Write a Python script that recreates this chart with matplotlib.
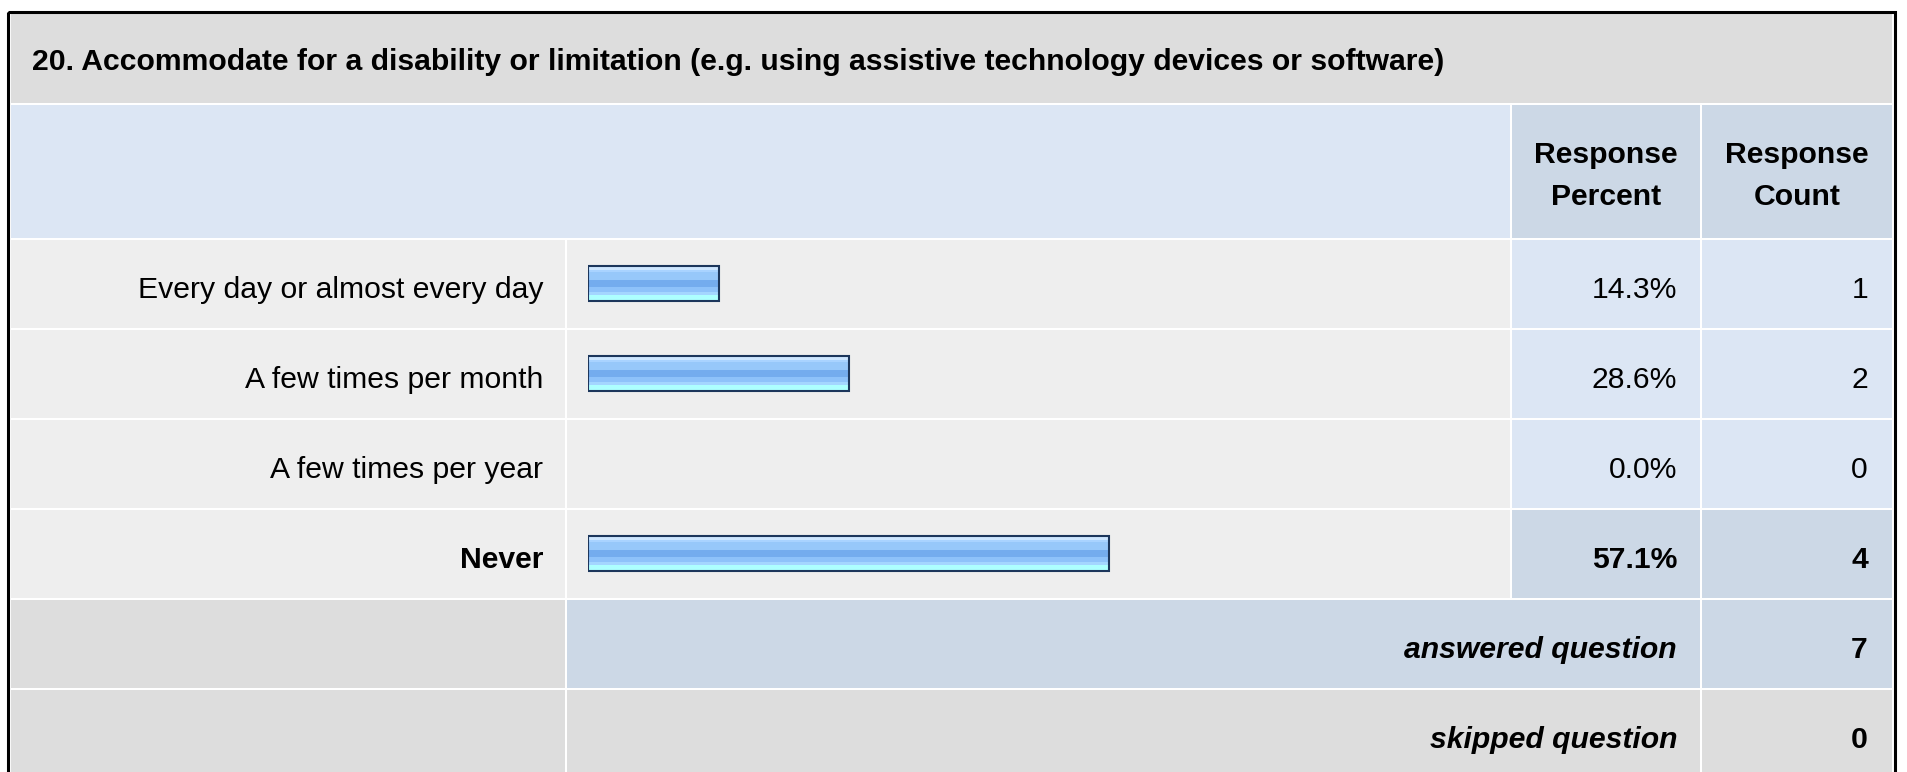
import matplotlib
matplotlib.use("Agg")
import matplotlib.pyplot as plt
from matplotlib.patches import Rectangle
import numpy as np

# ---------------- data ----------------
title = "20. Accommodate for a disability or limitation (e.g. using assistive technology devices or software)"
header_percent = ["Response", "Percent"]
header_count = ["Response", "Count"]
categories = ["Every day or almost every day", "A few times per month",
              "A few times per year", "Never"]
percents = [14.3, 28.6, 0.0, 57.1]
counts = [1, 2, 0, 4]
highlight = [False, False, False, True]
summary_labels = ["answered question", "skipped question"]
summary_values = [7, 0]

# ---------------- styles ----------------
W, H = 1907, 772
FONT = ["Liberation Sans", "DejaVu Sans"]
FS = 21.7
C_TITLE = "#DDDDDD"
C_LBLUE = "#DCE6F4"
C_DBLUE = "#CCD8E6"
C_ROW = "#EEEEEE"
C_GRAY = "#DDDDDD"
BAR_EDGE = "#1C365B"
GRAD = ["#CDE6FF", "#CDE6FF", "#A9D3FF", "#97C8FA", "#97C8FA", "#97C8FA",
        "#74ACEE", "#74ACEE", "#74ACEE", "#8EC2FA", "#8EC2FA", "#A4D6FF",
        "#ADFFFF", "#ADFFFF"]

fig = plt.figure(figsize=(W / 100, H / 100), dpi=100)
fig.patch.set_facecolor("white")
ax = fig.add_axes([0, 0, 1, 1])
ax.set_xlim(0, W)
ax.set_ylim(H, 0)
ax.axis("off")


def cell(x0, x1, y0, y1, color):
    ax.add_patch(Rectangle((x0, y0), x1 - x0, y1 - y0, facecolor=color,
                           edgecolor="none", zorder=1))


def txt(x, y, s, ha="right", weight="normal", style="normal"):
    ax.text(x, y, s, ha=ha, va="baseline", fontsize=FS, family=FONT,
            fontweight=weight, fontstyle=style, color="black", zorder=5)


cols = [(11, 565), (567, 1510), (1512, 1700), (1702, 1892)]
ROW_H = 90
ROW0 = 238

# title row
cell(11, 1892, 14, 103, C_TITLE)
txt(32, 70, title, ha="left", weight="bold")

# header row
cell(11, 1510, 105, 238, C_LBLUE)
cell(cols[2][0], cols[2][1], 105, 238, C_DBLUE)
cell(cols[3][0], cols[3][1], 105, 238, C_DBLUE)
pc = (cols[2][0] + cols[2][1]) / 2
cc = (cols[3][0] + cols[3][1]) / 2
txt(pc, 163, header_percent[0], ha="center", weight="bold")
txt(pc, 205, header_percent[1], ha="center", weight="bold")
txt(cc, 163, header_count[0], ha="center", weight="bold")
txt(cc, 205, header_count[1], ha="center", weight="bold")

# data rows
for i, (cat, p, n, hl) in enumerate(zip(categories, percents, counts, highlight)):
    y0 = ROW0 + ROW_H * i + 2
    y1 = ROW0 + ROW_H * (i + 1)
    cell(cols[0][0], cols[0][1], y0, y1, C_ROW)
    cell(cols[1][0], cols[1][1], y0, y1, C_ROW)
    cell(cols[2][0], cols[2][1], y0, y1, C_DBLUE if hl else C_LBLUE)
    cell(cols[3][0], cols[3][1], y0, y1, C_DBLUE if hl else C_LBLUE)
    yb = (y0 + y1) / 2 + 14
    w = "bold" if hl else "normal"
    txt(543, yb, cat, weight=w)
    txt(1677, yb, f"{p:.1f}%", weight=w)
    txt(1868, yb, f"{n}", weight=w)

# summary rows
nrows = len(categories)
for j, (lab, val) in enumerate(zip(summary_labels, summary_values)):
    y0 = ROW0 + ROW_H * (nrows + j) + 2
    y1 = ROW0 + ROW_H * (nrows + j + 1)
    c = C_DBLUE if j == 0 else C_GRAY
    cell(cols[0][0], cols[0][1], y0, y1, C_GRAY)
    cell(cols[1][0], cols[2][1], y0, y1, c)
    cell(cols[3][0], cols[3][1], y0, y1, c)
    yb = (y0 + y1) / 2 + 14
    txt(1677, yb, lab, weight="bold", style="italic")
    txt(1868, yb, f"{val}", weight="bold")

# outer border
ax.add_patch(Rectangle((7.5, 11.5), 1887, 800, facecolor="none",
                       edgecolor="black", linewidth=2.2, zorder=10))

# ---------------- bars ----------------
BAR_LEFT = 588
BAR_FULL = 913  # pixels for 100 %
bax = fig.add_axes([BAR_LEFT / W, 1 - (ROW0 + ROW_H * nrows) / H,
                    BAR_FULL / W, ROW_H * nrows / H])
bax.axis("off")
bax.patch.set_alpha(0)
ypos = np.arange(nrows)
bh = 35 / ROW_H
bars = bax.barh(ypos, percents, height=bh, facecolor="none",
                edgecolor=[BAR_EDGE if p > 0 else "none" for p in percents],
                linewidth=1.5, zorder=3)
from matplotlib.colors import to_rgb
grad = np.array([to_rgb(c) for c in GRAD])[:, None, :]
for b, p in zip(bars, percents):
    if p <= 0:
        continue
    x0, y0 = b.get_x(), b.get_y()
    im = bax.imshow(grad, extent=(x0, x0 + b.get_width(), y0 + bh, y0),
                    aspect="auto", interpolation="nearest", zorder=2)
    im.set_clip_path(b)
bax.set_xlim(0, 100)
bax.set_ylim(nrows - 0.5, -0.5)

fig.savefig("out.png", dpi=100)
